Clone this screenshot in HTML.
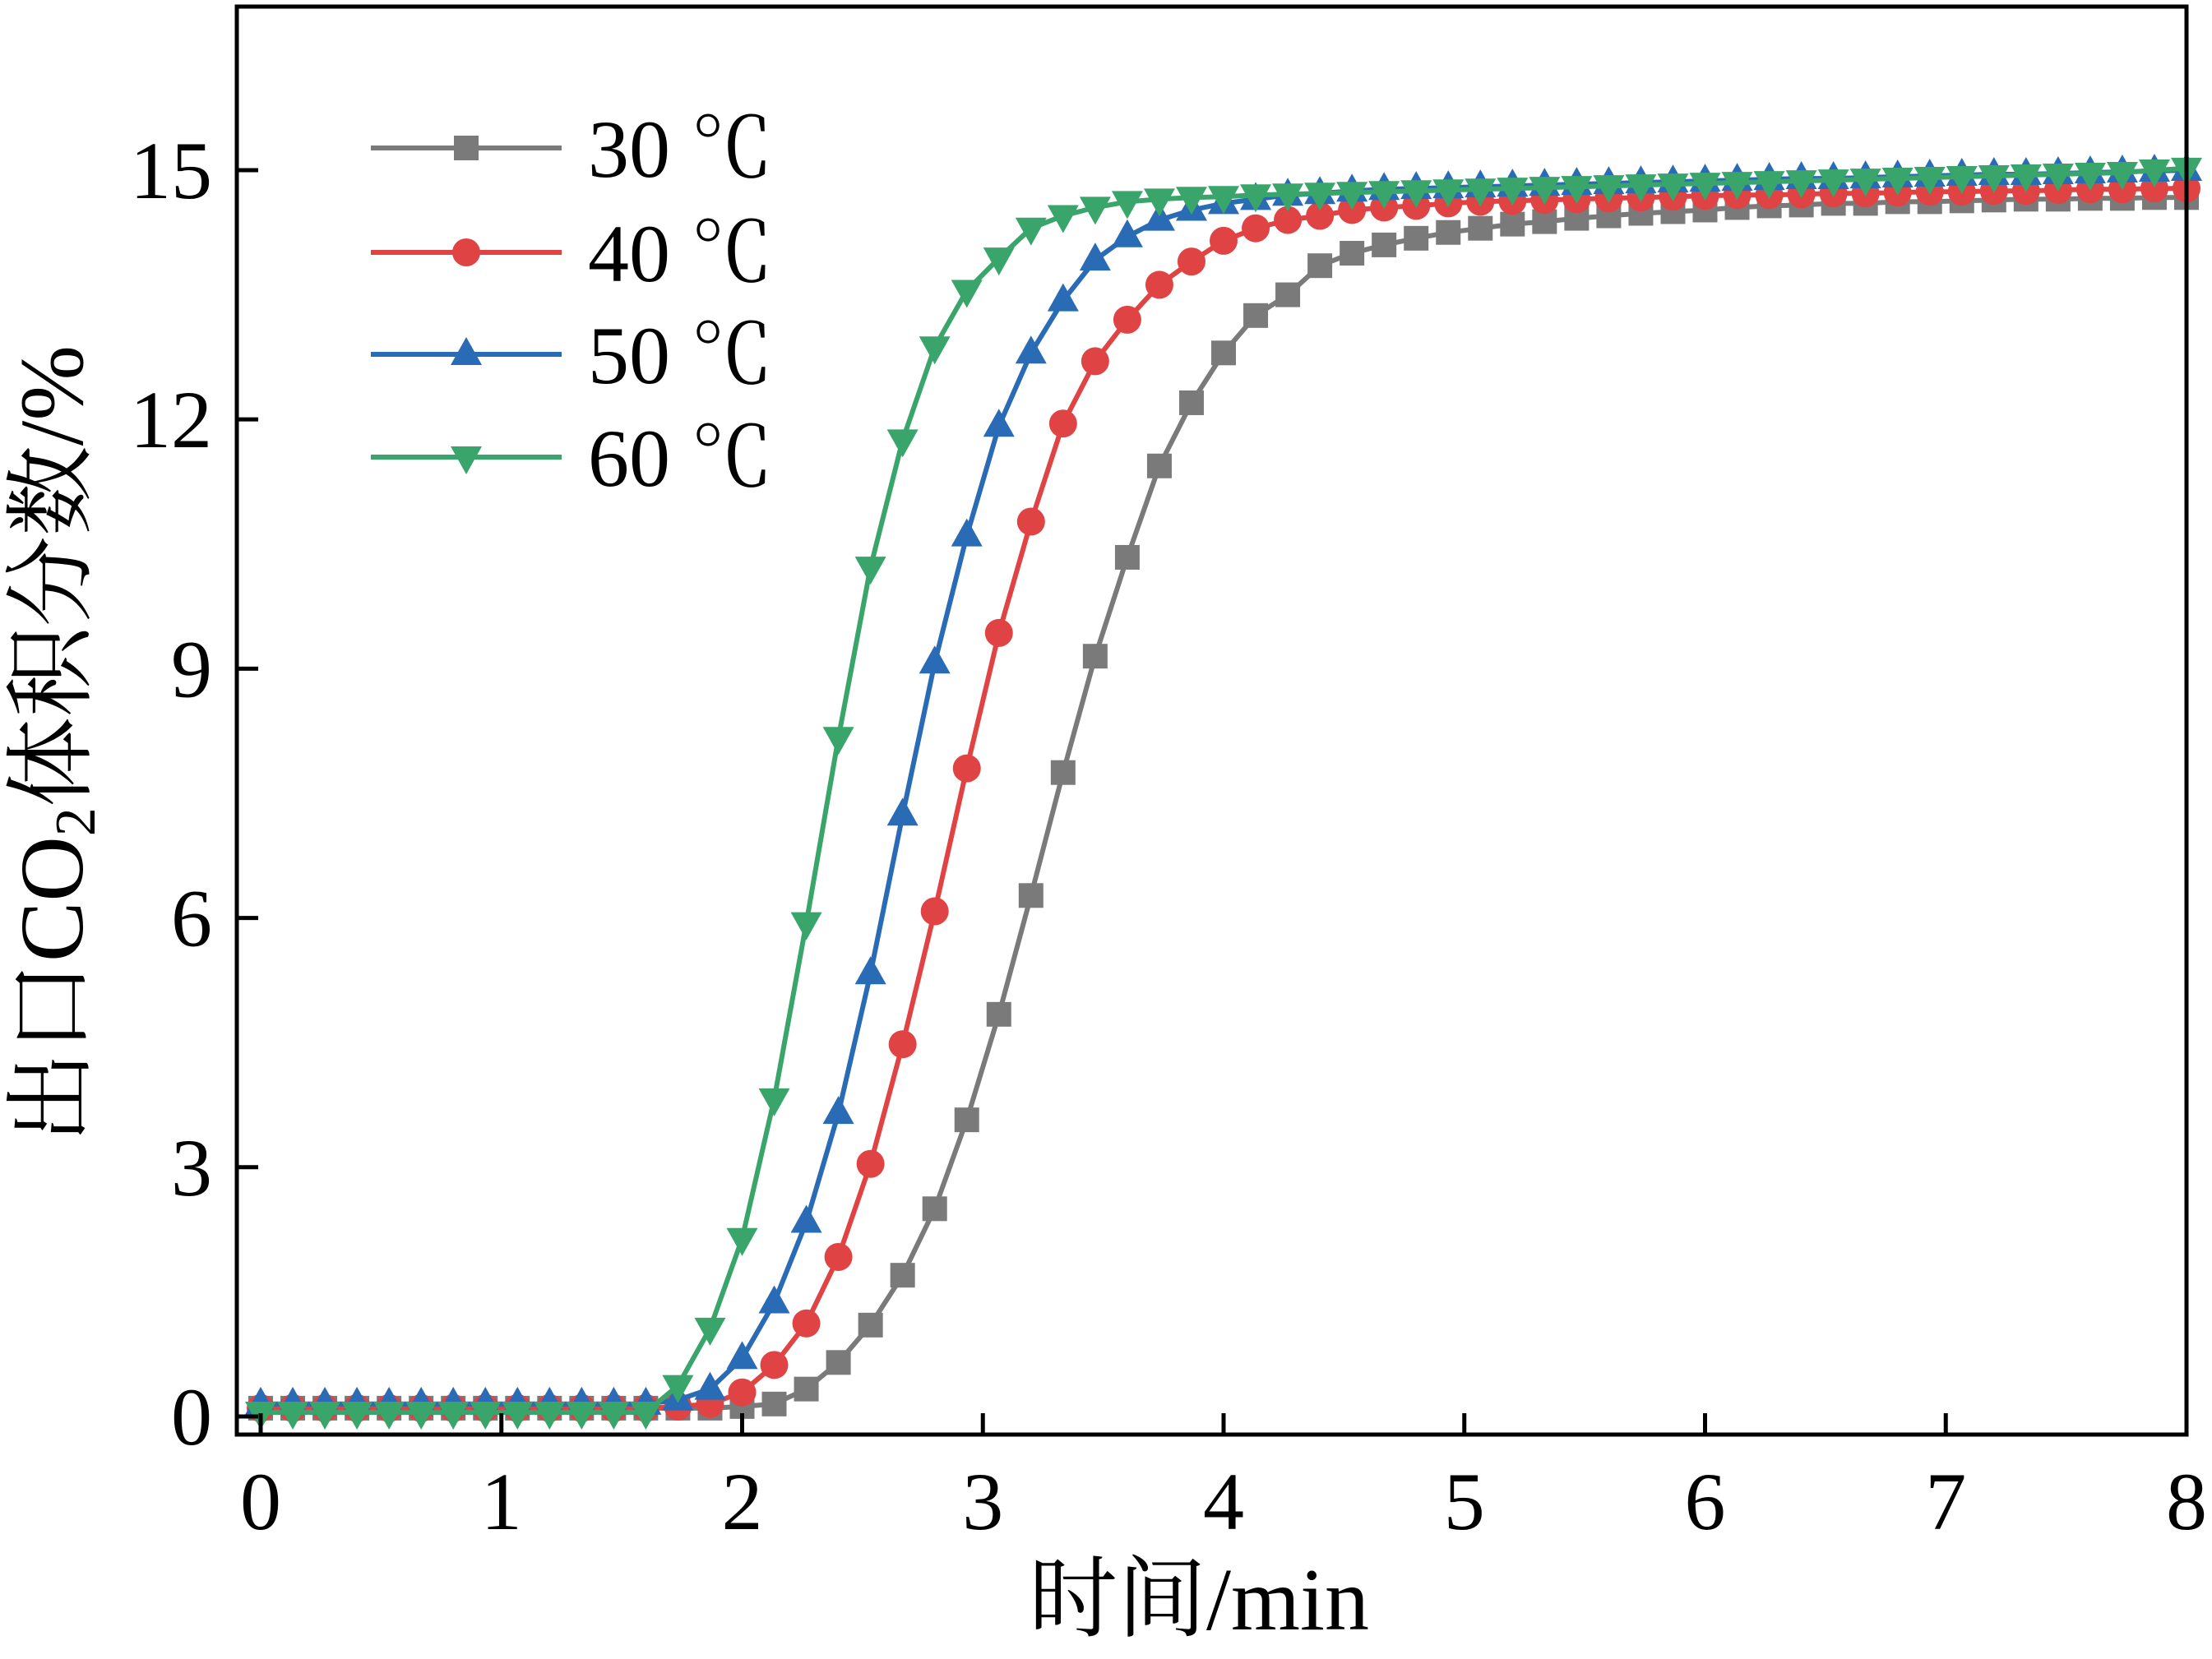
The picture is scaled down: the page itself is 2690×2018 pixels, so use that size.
<!DOCTYPE html>
<html><head><meta charset="utf-8">
<style>
html,body{margin:0;padding:0;background:#fff;}
svg{display:block;}
text{font-family:"Liberation Serif","Noto Serif CJK SC",serif;fill:#000;}
</style></head>
<body>
<svg id="chart" width="2690" height="2018" viewBox="0 0 2690 2018" xmlns="http://www.w3.org/2000/svg">
<g id="series-layer"></g>
<g id="axes-layer"></g>
<g id="legend"></g>
<text transform="translate(100,905) rotate(-90)" text-anchor="middle" font-size="110">出口CO<tspan font-size="70" dy="15">2</tspan><tspan dy="-15">体积分数/%</tspan></text>
<text x="1458" y="1982" text-anchor="middle" font-size="108">时间/min</text>
</svg>
<script>
const xTicks = [0,1,2,3,4,5,6,7,8];
const yTicks = [0,3,6,9,12,15];
const seriesNames = ["30 ℃","40 ℃","50 ℃","60 ℃"];
const timeStep = 8/60;
const gray30 = [0.1,0.1,0.1,0.1,0.1,0.1,0.1,0.1,0.1,0.1,0.1,0.1,0.1,0.1,0.1,0.12,0.15,0.33,0.65,1.1,1.7,2.5,3.57,4.84,6.27,7.75,9.15,10.34,11.44,12.2,12.8,13.25,13.5,13.85,14.0,14.1,14.18,14.25,14.3,14.35,14.38,14.42,14.45,14.48,14.5,14.52,14.55,14.57,14.58,14.6,14.6,14.62,14.62,14.63,14.64,14.65,14.65,14.66,14.66,14.67,14.67];
const red40 = [0.1,0.1,0.1,0.1,0.1,0.1,0.1,0.1,0.1,0.1,0.1,0.1,0.1,0.12,0.15,0.29,0.62,1.12,1.92,3.04,4.48,6.08,7.8,9.43,10.77,11.95,12.7,13.2,13.62,13.9,14.15,14.3,14.4,14.45,14.52,14.55,14.57,14.6,14.62,14.63,14.64,14.65,14.66,14.67,14.68,14.69,14.7,14.7,14.71,14.72,14.72,14.73,14.74,14.74,14.75,14.75,14.76,14.77,14.77,14.78,14.78];
const blue50 = [0.15,0.15,0.15,0.15,0.15,0.15,0.15,0.15,0.15,0.15,0.15,0.15,0.15,0.2,0.33,0.7,1.37,2.34,3.65,5.33,7.24,9.07,10.6,11.92,12.8,13.43,13.92,14.2,14.4,14.52,14.6,14.65,14.7,14.72,14.75,14.77,14.78,14.79,14.8,14.81,14.82,14.83,14.84,14.85,14.86,14.87,14.88,14.89,14.9,14.9,14.91,14.92,14.93,14.94,14.95,14.95,14.96,14.97,14.98,14.99,15.0];
const green60 = [0.05,0.05,0.05,0.05,0.05,0.05,0.05,0.05,0.05,0.05,0.05,0.05,0.05,0.37,1.06,2.14,3.82,5.94,8.17,10.22,11.75,12.87,13.55,13.94,14.3,14.45,14.55,14.62,14.65,14.67,14.68,14.7,14.71,14.72,14.73,14.74,14.75,14.76,14.77,14.78,14.79,14.8,14.81,14.82,14.83,14.84,14.85,14.86,14.87,14.88,14.89,14.9,14.91,14.92,14.93,14.94,14.95,14.96,14.97,15.0,15.02];

const NS="http://www.w3.org/2000/svg";
const X0=317, XPU=292.75, Y0=1723, YPU=101.07;
const sx=v=>X0+v*XPU, sy=v=>Y0-v*YPU;
const L=288,R=2659,T=8,B=1745;
function mk(tag,attrs,parent){const e=document.createElementNS(NS,tag);for(const k in attrs)e.setAttribute(k,attrs[k]);parent.appendChild(e);return e;}

const colors=["#7a7a7a","#e04343","#2a6bb5","#3aa56a"];
const shapes=["square","circle","up","down"];
const allData=[gray30,red40,blue50,green60];
const seriesKeys=["series-30c","series-40c","series-50c","series-60c"];

function marker(shape,cx,cy,color,parent,name){
  let e;
  if(shape==="square"){e=mk("rect",{x:cx-15,y:cy-15,width:30,height:30,fill:color},parent);}
  else if(shape==="circle"){e=mk("circle",{cx:cx,cy:cy,r:17,fill:color},parent);}
  else if(shape==="up"){e=mk("polygon",{points:`${cx},${cy-21} ${cx-19},${cy+13} ${cx+19},${cy+13}`,fill:color},parent);}
  else {e=mk("polygon",{points:`${cx},${cy+21} ${cx-19},${cy-13} ${cx+19},${cy-13}`,fill:color},parent);}
  
  
  return e;
}

const sl=document.getElementById("series-layer");
allData.forEach((data,si)=>{
  const g=mk("g",{},sl);
  
  
  const pts=data.map((v,i)=>`${sx(i*timeStep).toFixed(1)},${sy(v).toFixed(1)}`).join(" ");
  const pl=mk("polyline",{points:pts,fill:"none",stroke:colors[si],"stroke-width":6,"stroke-linejoin":"round"},g);
  
  
  data.forEach((v,i)=>marker(shapes[si],sx(i*timeStep),sy(v),colors[si],g,seriesKeys[si]+'-point'));
});

const ax=document.getElementById("axes-layer");
const frame=mk("rect",{x:L,y:T,width:R-L,height:B-T,fill:"none",stroke:"#000","stroke-width":5},ax);


xTicks.forEach(t=>{
  const x=sx(t);
  const tk=mk("line",{x1:x,y1:B,x2:x,y2:B-26,stroke:"#000","stroke-width":5},ax);
  
  
  const lb=mk("text",{x:x,y:1860,"text-anchor":"middle","font-size":100},ax);
  lb.textContent=t;
  
  
});
yTicks.forEach(t=>{
  const y=sy(t);
  const tk=mk("line",{x1:L,y1:y,x2:L+26,y2:y,stroke:"#000","stroke-width":5},ax);
  
  
  const lb=mk("text",{x:258,y:y+34,"text-anchor":"end","font-size":100},ax);
  lb.textContent=t;
  
  
});

const lg=document.getElementById("legend");
const rowY=[180,307,431,556];
seriesNames.forEach((n,i)=>{
  const g=mk("g",{},lg);
  
  
  const ln=mk("line",{x1:451,y1:rowY[i],x2:683,y2:rowY[i],stroke:colors[i],"stroke-width":6},g);
  
  
  marker(shapes[i],567,rowY[i],colors[i],g,'legend-marker');
  const tx=mk("text",{x:715,y:rowY[i]+35,"font-size":100,"font-family":"'Noto Serif CJK SC','Liberation Serif',serif"},g);
  tx.textContent=n;
  
  
});
</script>
</body></html>
